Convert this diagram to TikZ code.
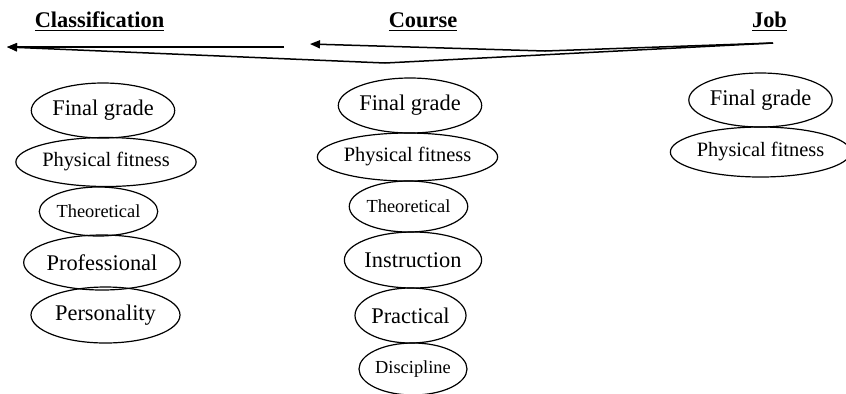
\documentclass[tikz,border=0pt]{standalone}
\usepackage{fontspec}
\setmainfont{Liberation Serif}
\usepackage{tikz}
\usetikzlibrary{arrows.meta,shapes.geometric}

\begin{document}
\begin{tikzpicture}[x=0.5pt,y=-0.5pt,>={Triangle[length=5pt,width=4pt]},
  ov/.style={draw,ellipse,line width=0.6pt,inner sep=0pt},
  big/.style={font=\fontsize{11.2}{12}\selectfont},
  mid/.style={font=\fontsize{10.2}{12}\selectfont},
  sml/.style={font=\fontsize{9.2}{11}\selectfont},
  head/.style={anchor=base,font=\fontsize{11.2}{12}\selectfont\bfseries}]
  \useasboundingbox (0,0) rectangle (846,393);
  % headings
  \node[head] (cls) at (99.5,27) {\underline{Classification}};
  \node[head] (crs) at (423,27) {\underline{Course}};
  \node[head] (job) at (769.5,27) {\underline{Job}};
  % arrows between the stages
  \coordinate (jobtail) at (773,43); \coordinate (kinka) at (545,51);
  \coordinate (kinkb) at (385,63); \coordinate (crstip) at (310,44);
  \coordinate (crstail) at (284,47); \coordinate (clstip) at (7,47);
  \draw[->,line width=0.75pt] (jobtail) -- (kinka) -- (crstip);
  \draw[->,line width=0.75pt] (jobtail) -- (kinkb) -- (clstip);
  \draw[->,line width=0.75pt] (crstail) -- (clstip);
  % (a) classification column
  \node[ov,big,minimum width=70pt,minimum height=27.5pt] (clsfin) at (103,110.5) {Final grade};
  \node[ov,mid,minimum width=89pt,minimum height=24.5pt] (clsphy) at (106,162) {Physical fitness};
  \node[ov,sml,minimum width=58.5pt,minimum height=24.5pt] (clsthe) at (98.5,211.5) {Theoretical};
  \node[ov,big,minimum width=75pt,minimum height=27.5pt] (clspro) at (102,262.5) {Professional};
  \node[ov,big,minimum width=74.5pt,minimum height=28pt] (clsper) at (105.5,315) {Personality};
  % (b) course column
  \node[ov,big,minimum width=69.5pt,minimum height=27.5pt] (crsfin) at (410,105.5) {Final grade};
  \node[ov,mid,minimum width=89.5pt,minimum height=24pt] (crsphy) at (407.5,157) {Physical fitness};
  \node[ov,sml,minimum width=58.5pt,minimum height=25.5pt] (crsthe) at (408.5,206.5) {Theoretical};
  \node[ov,big,minimum width=65pt,minimum height=28pt] (crsins) at (413,260) {Instruction};
  \node[ov,big,minimum width=55.5pt,minimum height=27.5pt] (crspra) at (410.5,315.5) {Practical};
  \node[ov,sml,minimum width=54pt,minimum height=26pt] (crsdis) at (413,369) {Discipline};
  % (c) job column
  \node[ov,big,minimum width=69.5pt,minimum height=27pt] (jobfin) at (760.5,100) {Final grade};
  \node[ov,mid,minimum width=85.5pt,minimum height=25pt] (jobphy) at (760.5,152) {Physical fitness};
\end{tikzpicture}
\end{document}
